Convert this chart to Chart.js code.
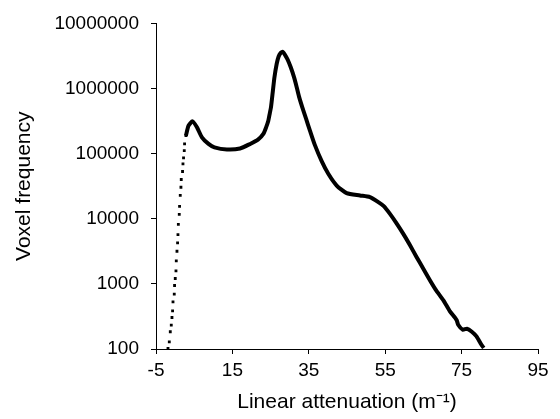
<!DOCTYPE html>
<html lang="en">
<head>
    <meta charset="UTF-8">
    <title>Voxel frequency</title>
    <script src="https://cdn.jsdelivr.net/npm/chart.js"></script>
    <style>
        body {
            margin: 0;
            background: #ffffff;
        }
        canvas {
            display: block;
        }
    </style>
</head>
<body>
    <canvas id="histChart" width="560" height="419"></canvas>

    <script>
        // rising edge, drawn as separate square dots
        const edgeX = [-1.86, -1.52, -1.26, -1.0, -0.82, -0.66, -0.55, -0.22, -0.14, 0.04,
                       0.23, 0.31, 0.49, 0.65, 0.75, 0.85, 1.09, 1.17, 1.35, 1.53,
                       1.61, 1.95, 2.06, 2.21, 2.4, 2.48, 2.84, 3.52];
        const edgeY = [102, 129, 184, 233, 305, 386, 530, 695, 945, 1210,
                       1580, 2250, 3170, 4250, 5710, 8200, 11700, 15500, 22800, 30500,
                       40100, 53200, 69800, 86300, 111000, 141000, 189000, 269000];

        // rest of the histogram, dense enough to read as a thick line
        const curveX = [2.84, 3.52, 4.57, 5.72, 7.02, 8.75, 10.3, 13.56, 17.0, 19.65,
                        21.7, 23.1, 23.8, 24.4, 24.8, 25.1, 25.6, 26.0, 26.6, 27.1,
                        27.6, 28.2, 29.4, 30.3, 31.15, 31.85, 32.5, 33.3, 34.3, 35.3,
                        36.6, 38.4, 40.1, 42.3, 44.9, 48.4, 51.0, 53.2, 54.7, 56.2,
                        57.8, 59.7, 61.5, 63.2, 64.9, 66.7, 68.3, 70.2, 71.9, 73.7,
                        74.1, 75.3, 76.4, 77.6, 78.9, 80.2, 80.8];
        const curveY = [189000, 269000, 313000, 254000, 178000, 141000, 125000, 116000, 120000, 141000,
                        164000, 201000, 251000, 321000, 420000, 514000, 925000, 1480000, 2400000, 3100000,
                        3500000, 3650000, 2830000, 2100000, 1480000, 1040000, 731000, 514000, 341000, 226000,
                        135000, 76000, 49100, 32400, 24800, 22800, 21500, 18000, 15500, 12000,
                        8810, 5920, 3920, 2590, 1740, 1140, 802, 563, 382, 278,
                        236, 198, 205, 186, 156, 116, 104];

        const yTicks = [100, 1000, 10000, 100000, 1000000, 10000000];

        const toPoints = (xs, ys) => xs.map((x, i) => ({ x: x, y: ys[i] }));

        const font = { family: "'Liberation Sans', Arial, sans-serif", size: 19 };

        new Chart(document.getElementById('histChart'), {
            type: 'scatter',
            data: {
                datasets: [{
                    label: 'edge',
                    data: toPoints(edgeX, edgeY),
                    pointStyle: 'rect',
                    pointRadius: 2,
                    backgroundColor: '#000',
                    borderColor: '#000',
                    borderWidth: 0,
                    showLine: false
                }, {
                    label: 'curve',
                    data: toPoints(curveX, curveY),
                    showLine: true,
                    borderColor: '#000',
                    borderWidth: 4,
                    pointRadius: 0,
                    tension: 0.2
                }]
            },
            options: {
                responsive: false,
                animation: false,
                layout: { padding: { left: 0, right: 22, top: 22, bottom: 0 } },
                plugins: {
                    legend: { display: false },
                    tooltip: { enabled: false }
                },
                scales: {
                    x: {
                        type: 'linear',
                        min: -5,
                        max: 95,
                        ticks: { stepSize: 20, color: '#000', font: font, padding: 5, maxRotation: 0 },
                        grid: { drawOnChartArea: false, drawTicks: true, tickLength: 5, color: '#000' },
                        border: { display: true, color: '#000', width: 1 },
                        title: {
                            display: true,
                            text: 'Linear attenuation (m⁻¹)',
                            color: '#000',
                            font: { family: font.family, size: 21 },
                            padding: { top: 0, bottom: 4 }
                        },
                        afterFit: s => { s.height = 70; }
                    },
                    y: {
                        type: 'logarithmic',
                        min: 100,
                        max: 10000000,
                        afterBuildTicks: s => { s.ticks = yTicks.map(v => ({ value: v })); },
                        ticks: {
                            color: '#000',
                            font: font,
                            padding: 12,
                            callback: v => String(v)
                        },
                        grid: { drawOnChartArea: false, drawTicks: true, tickLength: 5, color: '#000' },
                        border: { display: true, color: '#000', width: 1 },
                        title: {
                            display: true,
                            text: 'Voxel frequency',
                            color: '#000',
                            font: { family: font.family, size: 21 },
                            padding: { top: 12, bottom: 0 }
                        },
                        afterFit: s => { s.width = 156; }
                    }
                }
            }
        });
    </script>
</body>
</html>
